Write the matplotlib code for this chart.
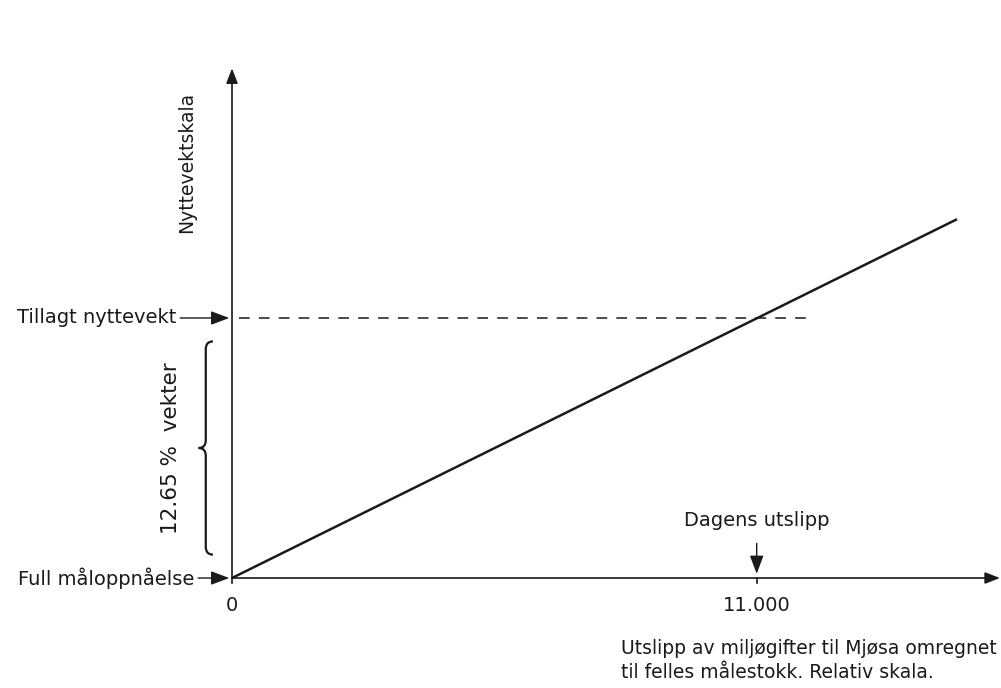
import matplotlib
matplotlib.use("Agg")
import matplotlib.pyplot as plt
from matplotlib.path import Path
from matplotlib.patches import PathPatch

plt.rcParams['font.family'] = ['DejaVu Sans']

# values (x in thousands, y in units of "tillagt nyttevekt")
line_x = [0.0, 15.2]
line_y = [0.0, 1.38]
today_x = 11.0
target_y = 1.0
dash_end_x = 12.1
brace_lo, brace_hi = 0.09, 0.91
x_ticks = [0.0, 11.0]
x_ticklabels = ["0", "11.000"]
x_axis_end = 16.1
y_axis_end = 1.96

fig = plt.figure(figsize=(10.01, 6.88), dpi=100)
ax = fig.add_axes([0, 0, 1, 1])
ax.set_xlim(-4.864, 16.122)
ax.set_ylim(-0.423, 2.223)
ax.axis('off')

ink = '#1a1a1a'

# axes with arrow heads
ax.annotate('', xy=(x_axis_end, 0), xytext=(0, 0),
            arrowprops=dict(arrowstyle='-|>,head_length=0.9,head_width=0.35',
                            color=ink, lw=1.2, shrinkA=0, shrinkB=0))
ax.annotate('', xy=(0, y_axis_end), xytext=(0, 0),
            arrowprops=dict(arrowstyle='-|>,head_length=0.9,head_width=0.35',
                            color=ink, lw=1.2, shrinkA=0, shrinkB=0))

# the utility line and the dashed target level
ax.plot(line_x, line_y, color=ink, lw=1.8, solid_capstyle='butt')
ax.plot([0.15, dash_end_x], [target_y, target_y], color=ink, lw=1.1,
        dashes=(7, 6))

# ticks and tick labels
for xt, lab in zip(x_ticks, x_ticklabels):
    ax.plot([xt, xt], [0, -0.02], color=ink, lw=1.2)
    ax.annotate(lab, xy=(xt, 0), xytext=(0, -27), textcoords='offset pixels',
                ha='center', va='center', fontsize=14, color=ink)

# left side labels with arrows
small_arrow = dict(arrowstyle='-|>,head_length=0.8,head_width=0.3',
                   color=ink, lw=1.0, shrinkA=1, shrinkB=2)
ax.annotate('Tillagt nyttevekt', xy=(0, target_y), xytext=(-56, 0),
            textcoords='offset pixels', ha='right', va='center',
            fontsize=14, color=ink, arrowprops=small_arrow)
ax.annotate('Full måloppnåelse', xy=(0, 0), xytext=(-38, 0),
            textcoords='offset pixels', ha='right', va='center',
            fontsize=14, color=ink, arrowprops=small_arrow)

# "Dagens utslipp" arrow
ax.annotate('Dagens utslipp', xy=(today_x, 0.0), xytext=(0, 58),
            textcoords='offset pixels', ha='center', va='center',
            fontsize=14, color=ink,
            arrowprops=dict(arrowstyle='-|>,head_length=0.8,head_width=0.3',
                            color=ink, lw=1.0, shrinkA=8, shrinkB=3))

# brace on the left of the y axis
bx = -0.55
bw = 0.15
mid = (brace_lo + brace_hi) / 2
verts = [(bx + bw, brace_hi), (bx, brace_hi), (bx, brace_hi - 0.03),
         (bx, mid + 0.03), (bx, mid), (bx - bw, mid),
         (bx, mid), (bx, mid - 0.03),
         (bx, brace_lo + 0.03), (bx, brace_lo), (bx + bw, brace_lo)]
codes = [Path.MOVETO, Path.CURVE3, Path.CURVE3,
         Path.LINETO, Path.CURVE3, Path.CURVE3,
         Path.CURVE3, Path.CURVE3,
         Path.LINETO, Path.CURVE3, Path.CURVE3]
ax.add_patch(PathPatch(Path(verts, codes), fill=False, color=ink, lw=1.6))

ax.text(bx - 0.72, mid, '12.65 %  vekter', rotation=90, ha='center',
        va='center', fontsize=15.5, color=ink)
ax.text(-0.95, 1.6, 'Nyttevektskala', rotation=90, ha='center',
        va='center', fontsize=13.5, color=ink)

# axis caption
fig.text(0.996, 0.04, 'Utslipp av miljøgifter til Mjøsa omregnet\n'
         'til felles målestokk. Relativ skala.', ha='right', va='center',
         multialignment='left', fontsize=13.5, color=ink, linespacing=1.3)

fig.savefig('out.png', dpi=100)
